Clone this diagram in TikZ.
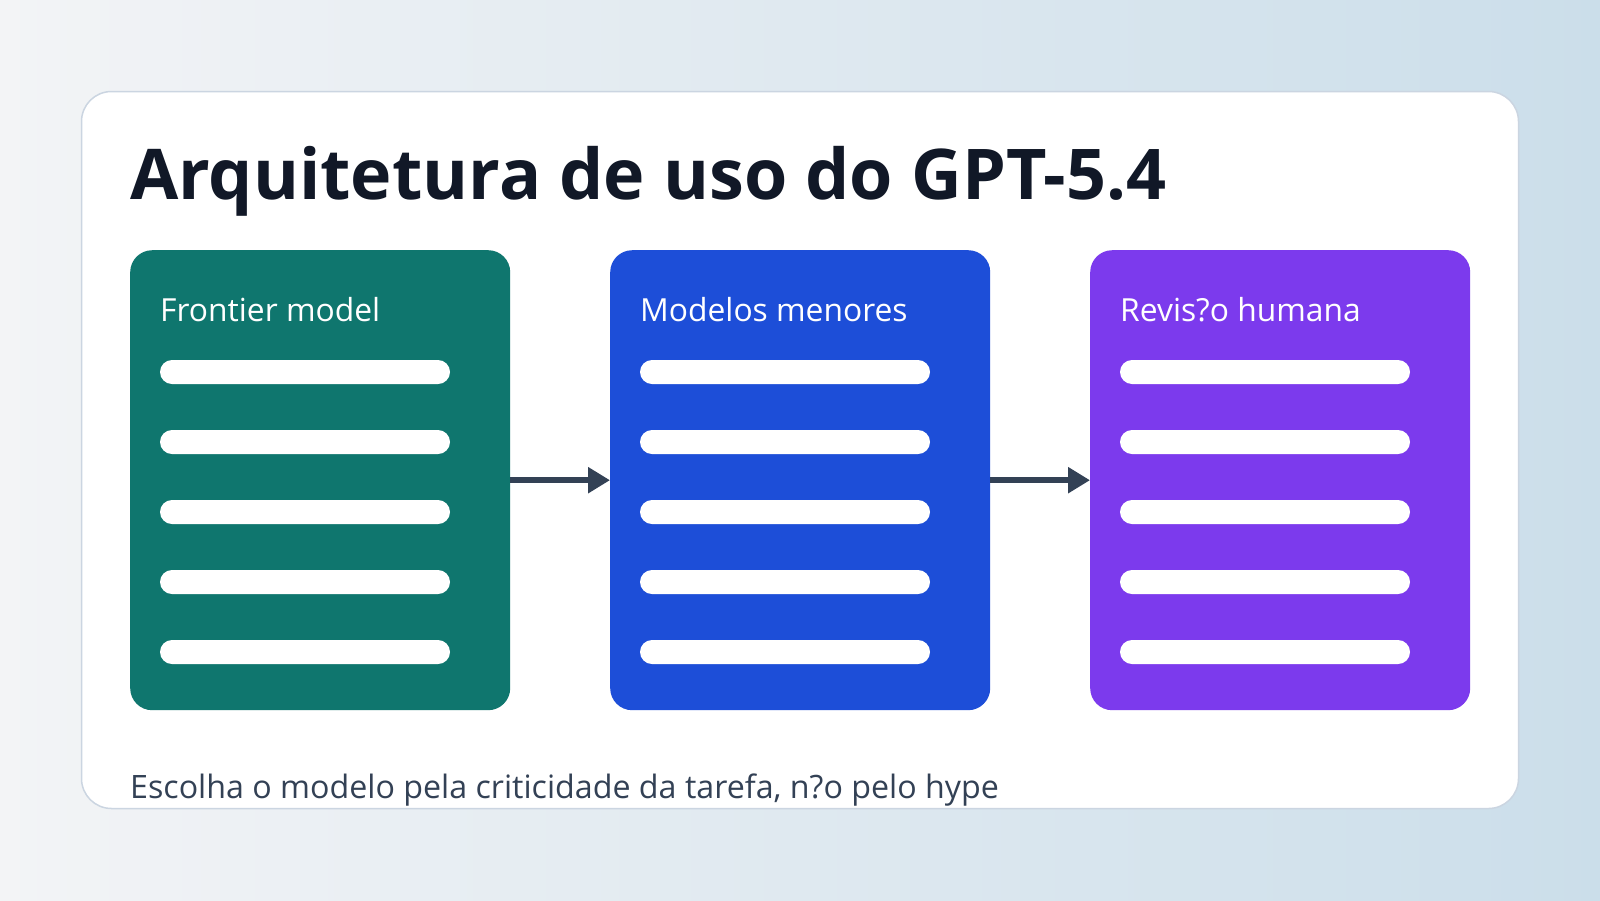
\documentclass[tikz,border=0pt]{standalone}
\usepackage{fontspec}
\setmainfont{Open Sans}
\usetikzlibrary{arrows.meta}
\definecolor{bgL}{RGB}{243,244,246}
\definecolor{bgR}{RGB}{203,222,234}
\definecolor{cardborder}{RGB}{203,213,225}
\definecolor{titlec}{RGB}{17,24,39}
\definecolor{subc}{RGB}{51,65,85}
\definecolor{cgreen}{RGB}{15,118,110}
\definecolor{cblue}{RGB}{29,78,216}
\definecolor{cpurple}{RGB}{124,58,237}
\tikzset{
  panel/.style={fill=#1, draw=none, rounded corners=22pt, minimum width=380pt, minimum height=460pt, inner sep=0pt, anchor=north west},
  paneltitle/.style={text=white, anchor=base west, inner sep=0pt, font=\fontsize{31.8}{36}\selectfont},
  bar/.style={fill=white, rounded corners=12pt},
  flow/.style={draw=subc, line width=6pt, -{Triangle[length=22pt,width=25pt]}},
}
\begin{document}
\begin{tikzpicture}[x=1pt,y=-1pt]
\useasboundingbox (0,0) rectangle (1600,900);
\shade[left color=bgL, right color=bgR] (0,0) rectangle (1600,900);
\draw[fill=white, draw=cardborder, line width=1.5pt, rounded corners=30pt] (81.5,91.5) rectangle (1518.5,808.5);
\node[anchor=base west, inner sep=0pt, text=titlec, font=\fontsize{70}{80}\selectfont\bfseries] (title) at (130,199) {Arquitetura de uso do GPT-5.4};
\node[panel=cgreen] (p1) at (130,250) {};
\node[panel=cblue] (p2) at (610,250) {};
\node[panel=cpurple] (p3) at (1090,250) {};
\node[paneltitle] (t1) at (160,321) {Frontier model};
\node[paneltitle] (t2) at (640,321) {Modelos menores};
\node[paneltitle] (t3) at (1120,321) {Revis?o humana};
\foreach \x in {160,640,1120}{
  \foreach \y in {372,442,512,582,652}{
    \fill[bar] (\x,\y-12) rectangle (\x+290,\y+12);
  }
}
\draw[flow] (p1.east) -- (p2.west);
\draw[flow] (p2.east) -- (p3.west);
\node[anchor=base west, inner sep=0pt, text=subc, font=\fontsize{32.2}{36}\selectfont] (note) at (130,798) {Escolha o modelo pela criticidade da tarefa, n?o pelo hype};
\end{tikzpicture}
\end{document}
